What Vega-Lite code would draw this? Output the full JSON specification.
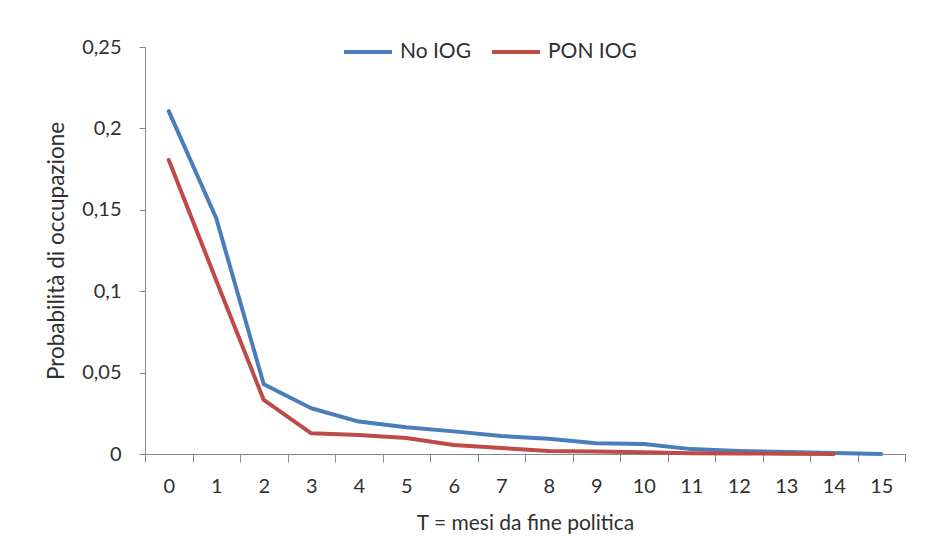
{
  "$schema": "https://vega.github.io/schema/vega-lite/v6.json",
  "width": 760,
  "height": 407,
  "autosize": {"type": "none"},
  "padding": {"left": 145, "top": 47, "right": 44, "bottom": 101},
  "background": "white",
  "config": {
    "view": {"stroke": null},
    "font": "Lato",
    "axis": {"labelFont": "Lato", "titleFont": "Lato", "labelColor": "#303030", "titleColor": "#303030", "domainColor": "#868686", "tickColor": "#868686", "domainWidth": 1, "tickWidth": 1, "grid": false, "titleFontWeight": "normal"},
    "legend": {"labelFont": "Lato", "labelColor": "#303030"}
  },
  "data": {
    "values": [
      {"T": 0, "serie": "No IOG", "p": 0.2106},
      {"T": 1, "serie": "No IOG", "p": 0.1448},
      {"T": 2, "serie": "No IOG", "p": 0.0428},
      {"T": 3, "serie": "No IOG", "p": 0.0281},
      {"T": 4, "serie": "No IOG", "p": 0.0199},
      {"T": 5, "serie": "No IOG", "p": 0.0164},
      {"T": 6, "serie": "No IOG", "p": 0.0139},
      {"T": 7, "serie": "No IOG", "p": 0.011},
      {"T": 8, "serie": "No IOG", "p": 0.0093},
      {"T": 9, "serie": "No IOG", "p": 0.0066},
      {"T": 10, "serie": "No IOG", "p": 0.0061},
      {"T": 11, "serie": "No IOG", "p": 0.003},
      {"T": 12, "serie": "No IOG", "p": 0.0019},
      {"T": 13, "serie": "No IOG", "p": 0.0013},
      {"T": 14, "serie": "No IOG", "p": 0.0006},
      {"T": 15, "serie": "No IOG", "p": 0.0},
      {"T": 0, "serie": "PON IOG", "p": 0.1806},
      {"T": 1, "serie": "PON IOG", "p": 0.1066},
      {"T": 2, "serie": "PON IOG", "p": 0.0332},
      {"T": 3, "serie": "PON IOG", "p": 0.0127},
      {"T": 4, "serie": "PON IOG", "p": 0.0117},
      {"T": 5, "serie": "PON IOG", "p": 0.0098},
      {"T": 6, "serie": "PON IOG", "p": 0.0055},
      {"T": 7, "serie": "PON IOG", "p": 0.0037},
      {"T": 8, "serie": "PON IOG", "p": 0.0018},
      {"T": 9, "serie": "PON IOG", "p": 0.0016},
      {"T": 10, "serie": "PON IOG", "p": 0.001},
      {"T": 11, "serie": "PON IOG", "p": 0.0004},
      {"T": 12, "serie": "PON IOG", "p": 0.0003},
      {"T": 13, "serie": "PON IOG", "p": 0.0002},
      {"T": 14, "serie": "PON IOG", "p": 0.0}
    ]
  },
  "mark": {"type": "line", "strokeWidth": 4, "strokeCap": "round", "strokeJoin": "round"},
  "encoding": {
    "x": {
      "field": "T",
      "type": "ordinal",
      "scale": {"type": "band", "paddingInner": 0, "paddingOuter": 0, "domain": [0,1,2,3,4,5,6,7,8,9,10,11,12,13,14,15]},
      "axis": {"tickBand": "extent", "labelAngle": 0, "tickSize": 8, "labelPadding": 14, "labelFontSize": 20, "title": "T = mesi da fine politica", "titleFontSize": 21, "titleBaseline": "alphabetic", "titleY": 75}
    },
    "y": {
      "field": "p",
      "type": "quantitative",
      "scale": {"domain": [0, 0.25], "nice": false},
      "axis": {"values": [0, 0.05, 0.1, 0.15, 0.2, 0.25], "labelExpr": "replace(format(datum.value, '~g'), '.', ',')", "tickSize": 6, "labelPadding": 18, "labelFontSize": 20, "title": "Probabilità di occupazione", "titleFontSize": 22.5, "titlePadding": 13}
    },
    "color": {
      "field": "serie",
      "type": "nominal",
      "scale": {"domain": ["No IOG", "PON IOG"], "range": ["#4A7EBB", "#BE4B48"]},
      "legend": {"orient": "none", "legendX": 197, "legendY": -21, "direction": "horizontal", "title": null, "symbolType": "stroke", "symbolSize": 2304, "symbolStrokeWidth": 4, "labelFontSize": 21, "labelOffset": 6, "columnPadding": 12}
    }
  }
}
